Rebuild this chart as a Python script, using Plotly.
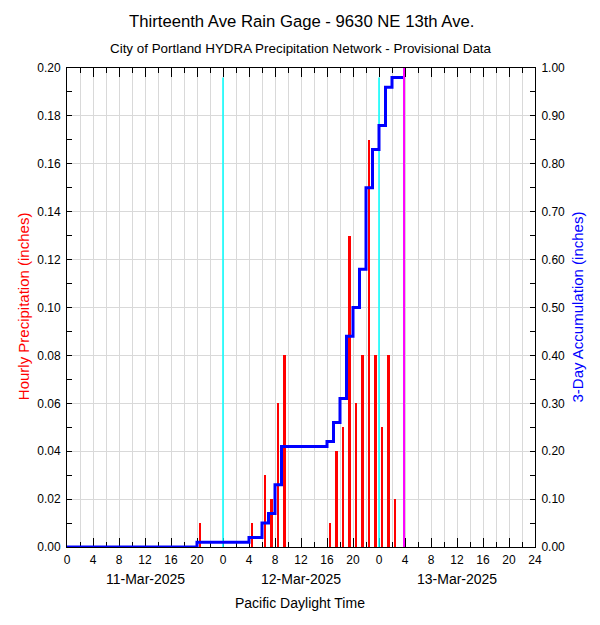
import numpy as np
import plotly.graph_objects as go

# ---- data (hours since 11-Mar-2025 00:00 PDT) ----
rain_hours = [20, 28, 30, 31, 32, 33, 40, 41, 42, 43, 44, 45, 46, 47, 48, 49, 50]
rain_inches = [0.01, 0.01, 0.03, 0.02, 0.06, 0.08, 0.01, 0.04, 0.05, 0.13,
               0.06, 0.08, 0.17, 0.08, 0.05, 0.08, 0.02]
now_hour = 51.85
midnight_hours = [24, 48]
tick_hours = list(range(0, 73, 4))
tick_labels = ["0", "4", "8", "12", "16", "20",
               "0", "4", "8", "12", "16", "20",
               "0", "4", "8", "12", "16", "20", "24"]
date_labels = ["11-Mar-2025", "12-Mar-2025", "13-Mar-2025"]
date_hours = [12, 36, 60]

accum = np.round(np.cumsum(rain_inches), 2)

FONT = "Liberation Sans, Arial, Helvetica, sans-serif"
OFF = 8  # page body margin
W, H = 600, 625
# plot area in screen pixels: x 67..535, y 68..547
L = 67 - OFF
T = 68 - OFF
R = W - (535 - OFF)
B = H - (547 - OFF)
PW = W - L - R
PH = H - T - B


def px_x(px):
    return (px - OFF - L) / PW


def px_y(py):
    return (H - B - (py - OFF)) / PH


fig = go.Figure()

# midnight markers (cyan), drawn first so other marks sit on top
for mh in midnight_hours:
    fig.add_trace(go.Scatter(
        x=[mh, mh], y=[0, float(accum[-1])], mode="lines",
        line=dict(color="#00ffff", width=1.5), yaxis="y2", showlegend=False, hoverinfo="skip",
    ))

fig.add_trace(go.Bar(
    x=[h + 0.46 for h in rain_hours], y=rain_inches, width=0.46,
    marker=dict(color="#ff0000", line=dict(width=0)),
    yaxis="y", showlegend=False, hoverinfo="x+y",
))

step_x = [0] + rain_hours + [now_hour]
step_y = [0] + list(accum) + [accum[-1]]
fig.add_trace(go.Scatter(
    x=step_x, y=step_y, mode="lines", line=dict(color="#0000ff", width=3, shape="hv"),
    yaxis="y2", showlegend=False,
))

# current time marker (magenta)
fig.add_trace(go.Scatter(
    x=[now_hour, now_hour], y=[0, 1.0], mode="lines",
    line=dict(color="#ff00ff", width=2), yaxis="y2", showlegend=False, hoverinfo="skip",
))

annotations = [
    dict(text="Thirteenth Ave Rain Gage - 9630 NE 13th Ave.", xref="paper", yref="paper",
         x=px_x(301.5), y=px_y(21.5), xanchor="center", yanchor="middle", showarrow=False,
         font=dict(family=FONT, size=16.7, color="black")),
    dict(text="City of Portland HYDRA Precipitation Network - Provisional Data", xref="paper", yref="paper",
         x=px_x(301), y=px_y(48.5), xanchor="center", yanchor="middle", showarrow=False,
         font=dict(family=FONT, size=13.4, color="black")),
    dict(text="Pacific Daylight Time", xref="paper", yref="paper",
         x=px_x(300), y=px_y(603), xanchor="center", yanchor="middle", showarrow=False,
         font=dict(family=FONT, size=14, color="black")),
    dict(text="Hourly Precipitation (inches)", xref="paper", yref="paper", textangle=-90,
         x=px_x(23.5), y=px_y(306.7), xanchor="center", yanchor="middle", showarrow=False,
         font=dict(family=FONT, size=15, color="#ff0000")),
    dict(text="3-Day Accumulation (inches)", xref="paper", yref="paper", textangle=-90,
         x=px_x(577), y=px_y(307.5), xanchor="center", yanchor="middle", showarrow=False,
         font=dict(family=FONT, size=15, color="#0000ff")),
]
for dl, dh in zip(date_labels, date_hours):
    annotations.append(dict(text=dl, xref="x", yref="paper", x=dh, y=px_y(579),
                            xanchor="center", yanchor="middle", showarrow=False,
                            font=dict(family=FONT, size=14, color="black")))

grid = "#d9d9d9"
fig.update_layout(
    width=W, height=H,
    margin=dict(l=L, r=R, t=T, b=B, pad=0, autoexpand=False),
    paper_bgcolor="white", plot_bgcolor="white",
    font=dict(family=FONT, size=12, color="black"),
    bargap=0,
    xaxis=dict(
        range=[0, 72], tickmode="array", tickvals=tick_hours, ticktext=tick_labels,
        ticks="inside", ticklen=9, tickwidth=1, tickcolor="black",
        showline=True, linecolor="black", linewidth=1, mirror="ticks",
        showgrid=True, gridcolor=grid, gridwidth=1, zeroline=False,
        minor=dict(dtick=2, tick0=0, ticks="inside", ticklen=5, tickwidth=1, tickcolor="black",
                   showgrid=True, gridcolor=grid, gridwidth=1),
        tickfont=dict(family=FONT, size=12, color="black"), ticklabelstandoff=2,
        layer="below traces", fixedrange=True,
    ),
    yaxis=dict(
        range=[0, 0.2], dtick=0.02, tick0=0, tickformat=".2f",
        ticks="inside", ticklen=5, tickwidth=1, tickcolor="black",
        showline=True, linecolor="black", linewidth=1,
        showgrid=True, gridcolor=grid, gridwidth=1, zeroline=False,
        minor=dict(dtick=0.01, ticks="inside", ticklen=5, tickwidth=1, tickcolor="black", showgrid=False),
        tickfont=dict(family=FONT, size=12, color="black"), ticklabelstandoff=3,
        layer="below traces",
    ),
    yaxis2=dict(
        range=[0, 1.0], dtick=0.1, tick0=0, tickformat=".2f", overlaying="y", side="right",
        ticks="inside", ticklen=5, tickwidth=1, tickcolor="black",
        showline=True, linecolor="black", linewidth=1,
        showgrid=False, zeroline=False,
        minor=dict(dtick=0.05, ticks="inside", ticklen=5, tickwidth=1, tickcolor="black", showgrid=False),
        tickfont=dict(family=FONT, size=12, color="black"), ticklabelstandoff=3,
        layer="below traces",
    ),
    annotations=annotations,
)

fig.write_html("out.html")
